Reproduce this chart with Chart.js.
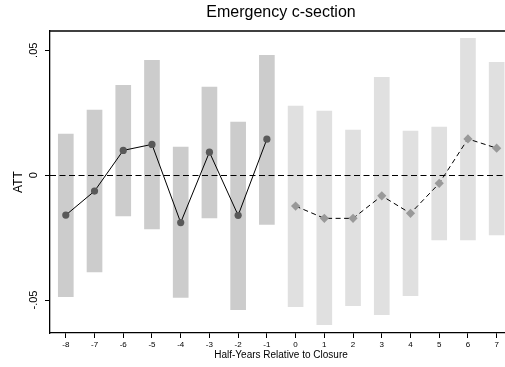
<!DOCTYPE html>
<html>
<head>
<meta charset="utf-8">
<script src="https://cdn.jsdelivr.net/npm/chart.js@4.4.0/dist/chart.umd.min.js"></script>
<style>
  html, body { margin: 0; padding: 0; background: #fff; }
  #wrap { width: 505px; height: 367px; }
</style>
</head>
<body>
<div id="wrap"><canvas id="attChart"></canvas></div>
<script>
// half-years relative to closure
const preYears = [-8, -7, -6, -5, -4, -3, -2, -1];
const postYears = [0, 1, 2, 3, 4, 5, 6, 7];

// point estimates
const preAtt = [-0.016, -0.0064, 0.0099, 0.0123, -0.019, 0.0092, -0.0161, 0.0144];
const postAtt = [-0.0124, -0.0173, -0.0173, -0.0083, -0.0153, -0.0033, 0.0145, 0.0108];

// confidence intervals
const preLow = [-0.0487, -0.0387, -0.0163, -0.0215, -0.049, -0.0171, -0.0539, -0.0197];
const preHigh = [0.0164, 0.026, 0.036, 0.046, 0.0112, 0.0352, 0.0212, 0.048];
const postLow = [-0.0527, -0.0599, -0.0523, -0.0559, -0.0483, -0.0259, -0.0259, -0.0239];
const postHigh = [0.0276, 0.0256, 0.018, 0.0392, 0.0176, 0.0192, 0.0548, 0.0452];

const xTicks = preYears.concat(postYears);
const yTicks = [-0.05, 0, 0.05];
const yTickLabels = ['-.05', '0', '.05'];

const FONT = "'Liberation Sans', Arial, sans-serif";

const pts = (xs, ys) => xs.map((x, i) => ({ x: x, y: ys[i] }));
const ranges = (xs, lo, hi) => xs.map((x, i) => ({ x: x, y: [lo[i], hi[i]] }));

// text, zero line and top frame line
const decorations = {
  id: 'decorations',
  afterDatasetsDraw(chart) {
    const { ctx, chartArea: a, scales: { y } } = chart;
    ctx.save();
    ctx.strokeStyle = '#000';
    ctx.lineWidth = 1;
    ctx.setLineDash([6, 3.5]);
    const y0 = Math.round(y.getPixelForValue(0)) + 0.5;
    ctx.beginPath();
    ctx.moveTo(a.left, y0);
    ctx.lineTo(a.right, y0);
    ctx.stroke();
    ctx.restore();
  },
  afterDraw(chart) {
    const { ctx, chartArea: a, scales: { y } } = chart;
    ctx.save();
    ctx.fillStyle = '#000';
    ctx.strokeStyle = '#000';
    ctx.lineWidth = 1.3;
    ctx.beginPath();
    ctx.moveTo(a.left, a.top);
    ctx.lineTo(a.right, a.top);
    ctx.stroke();

    ctx.textAlign = 'center';
    ctx.textBaseline = 'middle';
    const cx = 281;
    ctx.font = '16px ' + FONT;
    ctx.fillText('Emergency c-section', cx, 13);

    ctx.font = '10px ' + FONT;
    ctx.fillText('Half-Years Relative to Closure', cx, 355);

    yTicks.forEach((v, i) => {
      ctx.save();
      ctx.translate(34, y.getPixelForValue(v));
      ctx.rotate(-Math.PI / 2);
      ctx.font = '11px ' + FONT;
      ctx.fillText(yTickLabels[i], 0, 0);
      ctx.restore();
    });

    ctx.save();
    ctx.translate(19, (a.top + a.bottom) / 2);
    ctx.rotate(-Math.PI / 2);
    ctx.font = '12px ' + FONT;
    ctx.fillText('ATT', 0, 0);
    ctx.restore();
    ctx.restore();
  }
};

new Chart(document.getElementById('attChart'), {
  type: 'bar',
  data: {
    datasets: [
      {
        type: 'bar',
        data: ranges(preYears, preLow, preHigh),
        backgroundColor: '#cccccc',
        barThickness: 15,
        grouped: false,
        order: 3
      },
      {
        type: 'bar',
        data: ranges(postYears, postLow, postHigh),
        backgroundColor: '#e0e0e0',
        barThickness: 15,
        grouped: false,
        order: 3
      },
      {
        type: 'line',
        data: pts(preYears, preAtt),
        borderColor: '#000',
        borderWidth: 1,
        pointRadius: 3.6,
        pointBackgroundColor: '#595959',
        pointBorderColor: '#595959',
        pointBorderWidth: 0,
        tension: 0,
        fill: false,
        order: 1
      },
      {
        type: 'line',
        data: pts(postYears, postAtt),
        borderColor: '#000',
        borderWidth: 1,
        borderDash: [5, 3.5],
        pointStyle: 'rectRot',
        pointRadius: 4.6,
        pointBackgroundColor: '#999999',
        pointBorderColor: '#999999',
        pointBorderWidth: 0,
        tension: 0,
        fill: false,
        order: 1
      }
    ]
  },
  options: {
    responsive: true,
    maintainAspectRatio: false,
    animation: false,
    layout: { autoPadding: false, padding: { top: 31, right: 0, left: 0, bottom: 0 } },
    plugins: {
      legend: { display: false },
      tooltip: { enabled: false },
      title: { display: false }
    },
    scales: {
      x: {
        type: 'linear',
        min: -8.55,
        max: 7.29,
        offset: false,
        afterBuildTicks: (s) => { s.ticks = xTicks.map(v => ({ value: v })); },
        afterFit: (s) => { s.height = 34; s.paddingLeft = 0; s.paddingRight = 0; },
        grid: {
          offset: false,
          drawOnChartArea: false,
          drawTicks: true,
          tickLength: 5,
          tickColor: '#000',
          tickWidth: 1
        },
        border: { display: true, color: '#000', width: 1.3 },
        ticks: {
          color: '#000',
          font: { family: FONT, size: 8 },
          padding: 2,
          maxRotation: 0,
          autoSkip: false
        }
      },
      y: {
        min: -0.0632,
        max: 0.0577,
        afterBuildTicks: (s) => { s.ticks = yTicks.map(v => ({ value: v })); },
        afterFit: (s) => { s.width = 50; s.paddingTop = 0; s.paddingBottom = 0; },
        grid: {
          drawOnChartArea: false,
          drawTicks: true,
          tickLength: 5,
          tickColor: '#000',
          tickWidth: 1
        },
        border: { display: true, color: '#000', width: 1.3 },
        ticks: { display: false }
      }
    }
  },
  plugins: [decorations]
});
</script>
</body>
</html>
